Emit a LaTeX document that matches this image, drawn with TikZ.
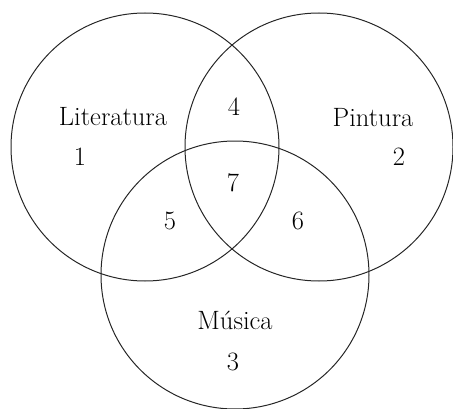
\documentclass[tikz,border=0pt]{standalone}
\usetikzlibrary{shapes,backgrounds}

\begin{document}
\begin{tikzpicture}[x=1pt,y=1pt,every node/.style={font=\fontsize{26.5}{30}\selectfont}]
\useasboundingbox (0,0) rectangle (453,408);
\draw[black!85,line width=1pt] (145,261) circle (134pt);
\draw[black!85,line width=1pt] (319,261) circle (134pt);
\draw[black!85,line width=1pt] (235,133) circle (134pt);

\node (lit) at (113,291) {Literatura};
\node (pin) at (373,290) {Pintura};
\node (mus) at (235,88) {Música};
\node (n1) at (80,251) {1};
\node (n2) at (399,251) {2};
\node (n3) at (233,46) {3};
\node (n4) at (234,301) {4};
\node (n5) at (170,187) {5};
\node (n6) at (298,187) {6};
\node (n7) at (233,225) {7};

\end{tikzpicture}
\end{document}
